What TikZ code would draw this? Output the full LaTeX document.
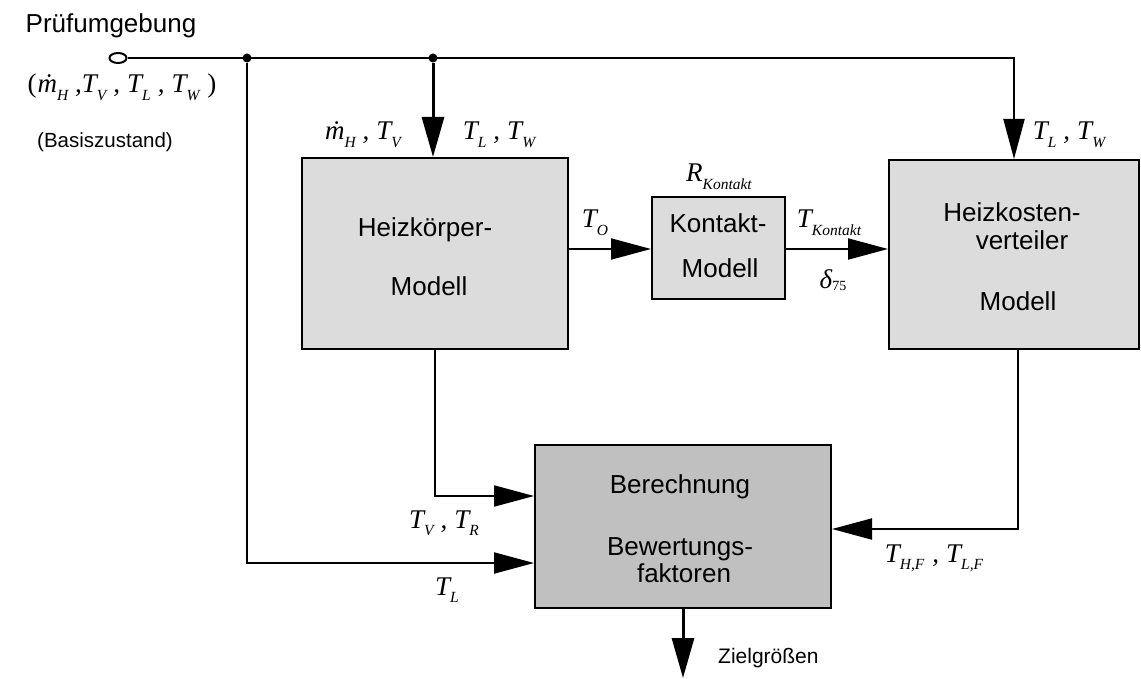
\documentclass[tikz,border=0pt]{standalone}
\usepackage{fontspec}
\setmainfont{Liberation Sans}
\newfontfamily\tms{Liberation Serif}
\usetikzlibrary{arrows.meta,shapes.geometric}
\definecolor{boxlight}{HTML}{DCDCDC}
\definecolor{boxdark}{HTML}{C0C0C0}
\newcommand\sbs[1]{\raisebox{-0.28em}{\fontsize{15.5}{15}\selectfont\tms\itshape #1}\kern2pt}
\newcommand\sbu[1]{\raisebox{-0.1em}{\fontsize{14}{14}\selectfont\tms\upshape #1}}
\newcommand\cma{\hspace{5pt},\hspace{7pt}}
\begin{document}
\begin{tikzpicture}[x=1pt,y=-1pt,
  box/.style={draw=black,line width=2pt,rectangle,inner sep=0pt},
  btxt/.style={font=\fontsize{26}{30}\selectfont,inner sep=0pt,anchor=base},
  lbl/.style={font=\fontsize{27}{30}\selectfont\tms\itshape,inner sep=0pt,anchor=base},
  arr/.style={line width=2pt,-{Triangle[length=40pt,width=21pt]}},
  arrthick/.style={line width=3pt,-{Triangle[length=40pt,width=22pt]}},
  dot/.style={circle,fill=black,inner sep=0pt,minimum size=9pt},
]
\useasboundingbox (0,0) rectangle (1141,679);

% boxes
\node[box,fill=boxlight,minimum width=266pt,minimum height=191pt] (hkm) at (435,253.5) {};
\node[box,fill=boxlight,minimum width=133pt,minimum height=101pt] (kon) at (718.5,248) {};
\node[box,fill=boxlight,minimum width=250pt,minimum height=189pt] (hkv) at (1014,254.5) {};
\node[box,fill=boxdark,minimum width=296pt,minimum height=163pt] (ber) at (683,526.5) {};

% box texts
\node[btxt] (hkm1) at (425,237) {Heizkörper-};
\node[btxt] (hkm2) at (429,295) {Modell};
\node[btxt] (kon1) at (718,233) {Kontakt-};
\node[btxt] (kon2) at (720,278) {Modell};
\node[btxt] (hkv1) at (1012,222) {Heizkosten-};
\node[btxt] (hkv2) at (1022,250) {verteiler};
\node[btxt] (hkv3) at (1018,310) {Modell};
\node[btxt] (ber1) at (680,493) {Berechnung};
\node[btxt] (ber2) at (680,555) {Bewertungs-};
\node[btxt] (ber3) at (684,582) {faktoren};

% source, junctions
\node[draw=black,line width=2pt,ellipse,minimum width=17pt,minimum height=10pt,inner sep=0pt] (c0) at (118,58) {};
\node[dot] (d1) at (247,58) {};
\node[dot] (d2) at (433,58) {};
\coordinate (zout) at (683,678);

% connectors
\draw[arr] (c0.east) -| (hkv.north);
\draw[arr] (d1) |- (ber.west |- 0,563);
\draw[arrthick] (d2) -- (d2 |- hkm.north);
\draw[arr] (hkm.south) |- (ber.west |- 0,496);
\draw[arr] (hkm.east |- 0,249) -- (kon.west |- 0,249);
\draw[arr] (kon.east |- 0,249) -- (hkv.west |- 0,249);
\draw[arr] (hkv.south -| 1018,0) |- (ber.east |- 0,529);
\draw[arrthick] (ber.south) -- (zout);

% labels
\node[btxt] (pruef) at (111,33) {Prüfumgebung};
\node[lbl] (src) at (122,93) {{\upshape(}\kern1pt\.{m}\sbs{H}\hspace{5pt},T\sbs{V}\cma T\sbs{L}\cma T\sbs{W}\hspace{6pt}{\upshape)}};
\node[btxt,font=\fontsize{20.5}{24}\selectfont] (basis) at (105,148) {(Basiszustand)};
\node[lbl] (l1) at (364,140) {\.{m}\sbs{H}\cma T\sbs{V}};
\node[lbl] (l2) at (500,140) {T\sbs{L}\cma T\sbs{W}};
\node[lbl] (l3) at (1070,140) {T\sbs{L}\cma T\sbs{W}};
\node[lbl] (lr) at (720,182) {R\sbs{Kontakt}};
\node[lbl] (lto) at (596,228) {T\sbs{O}};
\node[lbl] (ltk) at (830,228) {T\sbs{Kontakt}};
\node[lbl] (ld) at (833,288) {δ\sbu{75}};
\node[lbl] (ltvr) at (445,528) {T\sbs{V}\cma T\sbs{R}};
\node[lbl] (ltl) at (448,595) {T\sbs{L}};
\node[lbl] (lthf) at (935,562) {T\sbs{H,F}\hspace{6pt},\hspace{7pt}T\sbs{L,F}};
\node[btxt,font=\fontsize{21}{24}\selectfont,anchor=base west] (ziel) at (718,663) {Zielgrößen};
\end{tikzpicture}
\end{document}
